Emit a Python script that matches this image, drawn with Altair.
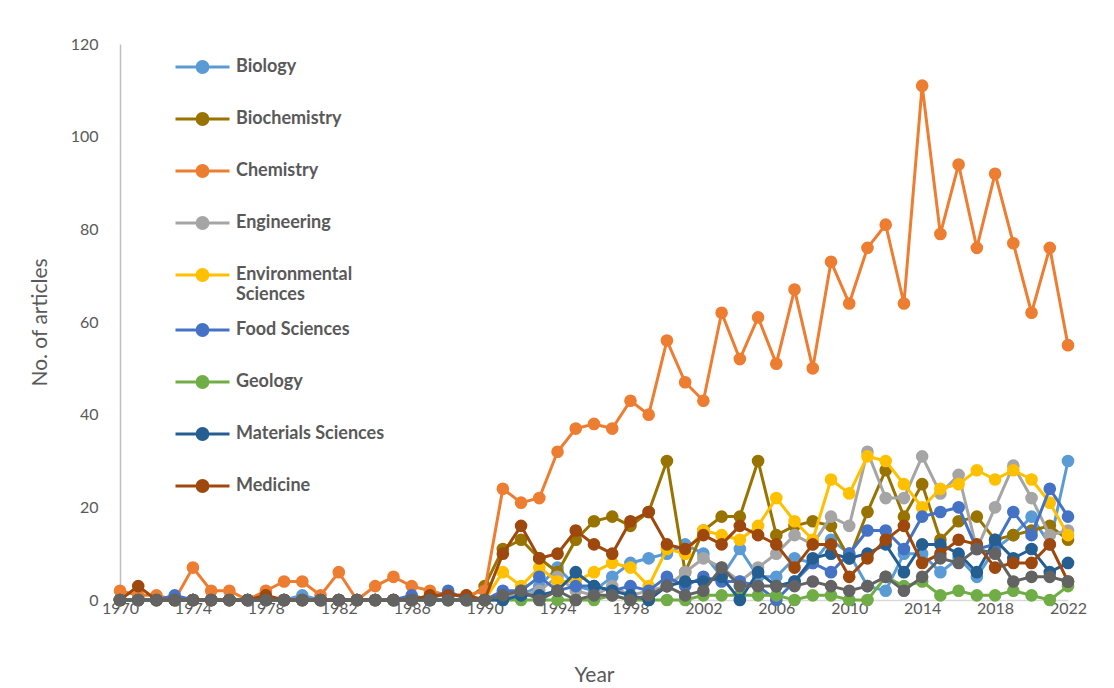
import altair as alt
import pandas as pd

years = list(range(1970, 2023))
series_names = ["Biology", "Biochemistry", "Chemistry", "Engineering", "Environmental Sciences",
                "Food Sciences", "Geology", "Materials Sciences", "Medicine", "Others"]
colors = ["#5B9BD5", "#997300", "#ED7D31", "#A5A5A5", "#FFC000",
          "#4472C4", "#70AD47", "#255E91", "#9E480E", "#636363"]
x_ticks = list(range(1970, 2023, 4))
y_ticks = [0, 20, 40, 60, 80, 100, 120]

zeros20 = [0] * 20
biology = [0,0,0,0,0,0,0,0,0,0,1,0,0,0,0,0,0,0,0,0] + \
    [0,1,1,3,7,3,2,5,8,9, 10,12,10,5,11,5,5,9,8,13, 10,3,2,10,10,6,9,5,11,14, 18,12,30]
biochemistry = zeros20 + \
    [3,11,13,9,6,13,17,18,16,19, 30,6,15,18,18,30,14,16,17,16, 9,19,28,18,25,13,17,18,13,14, 15,16,13]
chemistry = [2,1,1,0,7,2,2,0,2,4,4,1,6,0,3,5,3,2,1,1] + \
    [2,24,21,22,32,37,38,37,43,40, 56,47,43,62,52,61,51,67,50,73, 64,76,81,64,111,79,94,76,92,77, 62,76,55]
engineering = zeros20 + \
    [0,1,1,2,5,2,1,3,1,2, 3,6,9,7,4,7,10,14,12,18, 16,32,22,22,31,23,27,11,20,29, 22,14,15]
environmental = zeros20 + \
    [0,6,3,7,4,4,6,8,7,3, 11,10,15,14,13,16,22,17,13,26, 23,31,30,25,20,24,25,28,26,28, 26,21,14]
food = [0,0,0,1,0,0,0,0,0,0,0,0,0,0,0,0,1,0,2,0] + \
    [0,2,2,5,2,3,3,2,3,2, 5,3,5,4,4,3,0,4,8,6, 10,15,15,11,18,19,20,11,12,19, 14,24,18]
geology = zeros20 + \
    [0,0,0,0,0,0,0,1,0,0, 0,0,1,1,1,1,1,0,1,1, 0,0,5,3,4,1,2,1,1,2, 1,0,3]
materials = zeros20 + \
    [0,0,1,1,2,6,3,2,1,0, 3,4,4,5,0,6,3,4,9,10, 9,10,12,6,12,12,10,6,13,9, 11,6,8]
medicine = [0,3,0,0,0,0,0,0,1,0,0,0,0,0,0,0,0,1,1,1] + \
    [0,10,16,9,10,15,12,10,17,19, 12,11,14,12,16,14,12,7,12,12, 5,9,13,16,8,10,13,12,7,8, 8,12,4]
others = zeros20 + \
    [0,1,2,0,2,0,1,1,0,1, 3,1,2,7,3,3,3,3,4,3, 2,3,5,2,5,9,8,11,10,4, 5,5,4]

all_values = [biology, biochemistry, chemistry, engineering, environmental,
              food, geology, materials, medicine, others]

rows = []
for name, vals in zip(series_names, all_values):
    for yr, v in zip(years, vals):
        rows.append({"Year": yr, "Articles": v, "Field": name})
df = pd.DataFrame(rows)

FONT = "Lato"
GREY = "#595959"

legend_path = ("M-1,0L1,0M-0.2,0A0.2,0.2,0,1,1,0.2,0A0.2,0.2,0,1,1,-0.2,0Z")

color = alt.Color(
    "Field:N",
    scale=alt.Scale(domain=series_names, range=colors),
    legend=alt.Legend(
        title=None,
        values=series_names[:9],
        orient="none",
        legendX=54,
        legendY=-3,
        symbolType=legend_path,
        symbolSize=2916,
        symbolStrokeWidth=3,
        labelFont=FONT,
        labelFontSize=18,
        labelFontWeight="bold",
        labelColor=GREY,
        labelLimit=300,
        labelOffset=5,
        clipHeight=52,
        rowPadding=0,
        labelExpr="datum.label == 'Environmental Sciences' ? ['Environmental', 'Sciences'] : datum.label",
    ),
)

x_enc = alt.X(
    "Year:Q",
    scale=alt.Scale(domain=[1970, 2022], nice=False, zero=False),
    axis=alt.Axis(values=x_ticks, format="d", title="Year", grid=False, ticks=False,
                  labelFlush=False,
                  domainColor="#D9D9D9", domainWidth=1.5,
                  labelFont=FONT, labelFontSize=16, labelColor=GREY, labelPadding=0,
                  titleFont=FONT, titleFontSize=21, titleFontWeight="normal", titleColor=GREY,
                  titleY=75, titleBaseline="middle"),
)
y_enc = alt.Y(
    "Articles:Q",
    scale=alt.Scale(domain=[0, 120], nice=False),
    axis=alt.Axis(values=y_ticks, title="No. of articles", grid=False, ticks=False,
                  domainColor="#BFBFBF", domainWidth=1.5,
                  labelFont=FONT, labelFontSize=16, labelColor=GREY, labelPadding=22,
                  titleFont=FONT, titleFontSize=21, titleFontWeight="normal", titleColor=GREY,
                  titleX=-80, titleY=278, titleBaseline="middle", titleAngle=-90),
)

base = alt.Chart(df)
layers = []
for name in series_names:
    sub = base.transform_filter(alt.datum.Field == name)
    layers.append(sub.mark_line(strokeWidth=3).encode(x=x_enc, y=y_enc, color=color))
    layers.append(sub.mark_point(filled=True, size=160, opacity=1).encode(x=x_enc, y=y_enc, color=color))

chart = alt.layer(*layers).properties(
    width=948, height=556,
    autosize=alt.AutoSizeParams(type="none"),
    padding={"left": 112, "top": 36, "right": 30, "bottom": 86},
).configure_view(stroke=None)

chart.save("out.html", embed_options={"renderer": "svg", "actions": False})
